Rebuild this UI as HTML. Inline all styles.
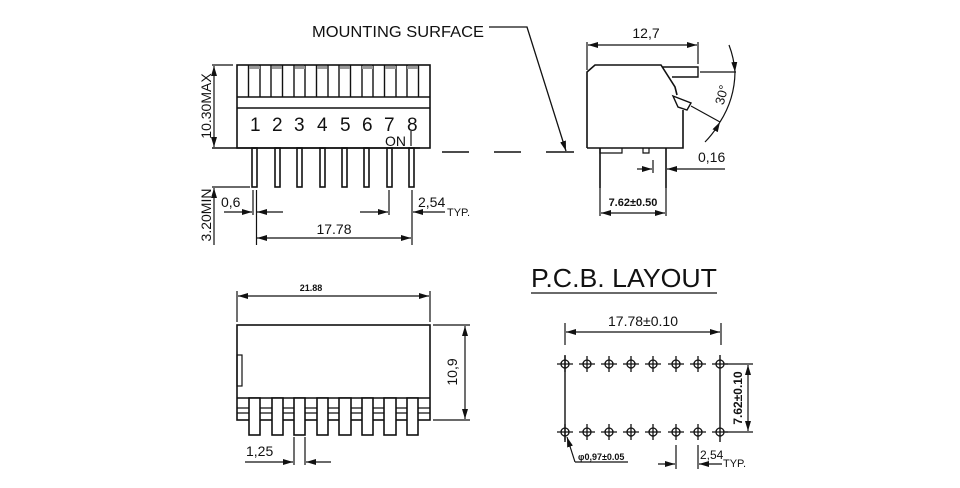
<!DOCTYPE html>
<html><head><meta charset="utf-8"><style>
html,body{margin:0;padding:0;background:#fff;}
svg{display:block;}
text{font-family:"Liberation Sans",sans-serif;fill:#111;}
</style></head><body>
<svg width="960" height="488" viewBox="0 0 960 488" xmlns="http://www.w3.org/2000/svg">
<defs>
<marker id="a" viewBox="0 0 10 6" refX="10" refY="3" markerWidth="10" markerHeight="6" markerUnits="userSpaceOnUse" orient="auto-start-reverse"><path d="M0,0L10,3L0,6z" fill="#111"/></marker>
</defs>
<g stroke="#111" stroke-width="1.6" fill="none">
<rect x="237" y="65" width="193" height="83"/>
<line x1="237" y1="97" x2="430" y2="97"/>
<line x1="237" y1="108" x2="430" y2="108"/>
<g stroke-width="1.4">
<path d="M248.5 65V97M260 65V97M271 65V97M282.5 65V97M294 65V97M305 65V97M316.5 65V97M328 65V97M339 65V97M350.5 65V97M362 65V97M373 65V97M384.5 65V97M396 65V97M407 65V97M418.5 65V97"/>
</g>
<g fill="#999" stroke="none">
<rect x="249" y="66" width="11" height="3"/><rect x="272" y="66" width="10" height="3"/><rect x="295" y="66" width="10" height="3"/><rect x="317" y="66" width="10" height="3"/><rect x="340" y="66" width="10" height="3"/><rect x="362" y="66" width="11" height="3"/><rect x="385" y="66" width="11" height="3"/><rect x="407" y="66" width="11" height="3"/>
</g>
<line x1="212" y1="148" x2="420" y2="148"/>
<line x1="411" y1="131" x2="411" y2="146" stroke-width="1.2"/>
<g>
<rect x="252" y="148" width="5" height="39"/><rect x="275" y="148" width="5" height="39"/><rect x="297" y="148" width="5" height="39"/><rect x="320" y="148" width="5" height="39"/><rect x="342" y="148" width="5" height="39"/><rect x="364" y="148" width="5" height="39"/><rect x="387" y="148" width="5" height="39"/><rect x="409" y="148" width="5" height="39"/>
</g>
<path d="M442 152H469M494 152H521M546 152H574"/>
<path d="M489 27H527L566 151" marker-end="url(#a)" stroke-width="1.3"/>
<line x1="212" y1="65" x2="233" y2="65" stroke-width="1.2"/>
<line x1="214" y1="66" x2="214" y2="147" marker-start="url(#a)" marker-end="url(#a)" stroke-width="1.2"/>
<line x1="212" y1="187" x2="250" y2="187" stroke-width="1.2"/>
<line x1="214" y1="245" x2="214" y2="188" marker-end="url(#a)" stroke-width="1.2"/>
<path d="M253 190V215M256.5 190V245M412 190V245M389 190V215" stroke-width="1.2"/>
<line x1="224" y1="212" x2="252" y2="212" marker-end="url(#a)" stroke-width="1.2"/>
<line x1="283" y1="212" x2="257" y2="212" marker-end="url(#a)" stroke-width="1.2"/>
<line x1="360" y1="212" x2="388" y2="212" marker-end="url(#a)" stroke-width="1.2"/>
<line x1="445" y1="212" x2="413" y2="212" marker-end="url(#a)" stroke-width="1.2"/>
<line x1="257" y1="238" x2="411" y2="238" marker-start="url(#a)" marker-end="url(#a)" stroke-width="1.2"/>

<path d="M587 148V72L595 65H661L675 87L677 95M683 110V148H587"/>
<path d="M662 67H698V77H672" stroke-width="1.4"/>
<path d="M673 96L691 103L687 110L678 107L673 96Z" stroke-width="1.4"/>
<path d="M600 148V188M666 148V188"/>
<path d="M600 148V153H622V148M643 148V153H649V148" stroke-width="1.2"/>
<path d="M587 42V70M698 42V64" stroke-width="1.2"/>
<line x1="588" y1="45" x2="697" y2="45" marker-start="url(#a)" marker-end="url(#a)" stroke-width="1.2"/>
<line x1="700" y1="72" x2="736" y2="72" stroke-width="1.2"/>
<line x1="691" y1="106" x2="720" y2="122" stroke-width="1.2"/>
<path d="M729 45A95 95 0 0 1 735 72" stroke-width="1.2" marker-end="url(#a)"/>
<path d="M735 72A95 95 0 0 1 720 122" stroke-width="1.2"/>
<path d="M705 142A95 95 0 0 0 720 122" stroke-width="1.2" marker-end="url(#a)"/>
<path d="M653 160V173" stroke-width="1.2"/>
<line x1="637" y1="169" x2="652" y2="169" marker-end="url(#a)" stroke-width="1.2"/>
<line x1="725" y1="169" x2="667" y2="169" marker-end="url(#a)" stroke-width="1.2"/>
<path d="M600 188V216M666 188V216" stroke-width="1.2"/>
<line x1="601" y1="213" x2="665" y2="213" marker-start="url(#a)" marker-end="url(#a)" stroke-width="1.2"/>

<rect x="237" y="325" width="193" height="95"/>
<line x1="237" y1="398" x2="430" y2="398"/>
<line x1="237" y1="408" x2="430" y2="408" stroke-width="1.2"/>
<line x1="237" y1="413" x2="430" y2="413" stroke-width="1.2"/>
<rect x="237" y="355" width="5" height="31" stroke-width="1.2"/>
<g fill="#fff">
<rect x="249" y="398" width="11" height="37"/><rect x="272" y="398" width="11" height="37"/><rect x="294" y="398" width="11" height="37"/><rect x="317" y="398" width="11" height="37"/><rect x="339" y="398" width="12" height="37"/><rect x="362" y="398" width="11" height="37"/><rect x="384" y="398" width="12" height="37"/><rect x="407" y="398" width="11" height="37"/>
</g>
<path d="M237 291V322M430 291V322" stroke-width="1.2"/>
<line x1="238" y1="296" x2="429" y2="296" marker-start="url(#a)" marker-end="url(#a)" stroke-width="1.2"/>
<path d="M433 325H470M433 420H470" stroke-width="1.2"/>
<line x1="465" y1="326" x2="465" y2="419" marker-start="url(#a)" marker-end="url(#a)" stroke-width="1.2"/>
<path d="M294 437V465M305 437V465" stroke-width="1.2"/>
<line x1="245" y1="462" x2="293" y2="462" marker-end="url(#a)" stroke-width="1.2"/>
<line x1="331" y1="462" x2="306" y2="462" marker-end="url(#a)" stroke-width="1.2"/>

<line x1="531" y1="293" x2="717" y2="293" stroke-width="1.3"/>
<path d="M565 323V345M721 323V345" stroke-width="1.2"/>
<line x1="566" y1="332" x2="720" y2="332" marker-start="url(#a)" marker-end="url(#a)" stroke-width="1.2"/>
<path d="M565 355V442M720 355V442" stroke-width="1.4"/>
<g stroke-width="1.3">
<path d="M557 364H573M565 356V372M579 364H595M587 356V372M601 364H617M609 356V372M623 364H639M631 356V372M645 364H661M653 356V372M668 364H684M676 356V372M690 364H706M698 356V372M712 364H728"/>
<path d="M557 432H573M565 424V440M579 432H595M587 424V440M601 432H617M609 424V440M623 432H639M631 424V440M645 432H661M653 424V440M668 432H684M676 424V440M690 432H706M698 424V440M712 432H728"/>
<circle cx="565" cy="364" r="4"/><circle cx="587" cy="364" r="4"/><circle cx="609" cy="364" r="4"/><circle cx="631" cy="364" r="4"/><circle cx="653" cy="364" r="4"/><circle cx="676" cy="364" r="4"/><circle cx="698" cy="364" r="4"/><circle cx="720" cy="364" r="4"/>
<circle cx="565" cy="432" r="4"/><circle cx="587" cy="432" r="4"/><circle cx="609" cy="432" r="4"/><circle cx="631" cy="432" r="4"/><circle cx="653" cy="432" r="4"/><circle cx="676" cy="432" r="4"/><circle cx="698" cy="432" r="4"/><circle cx="720" cy="432" r="4"/>
</g>
<path d="M725 364H753M725 432H753" stroke-width="1.2"/>
<line x1="748" y1="365" x2="748" y2="431" marker-start="url(#a)" marker-end="url(#a)" stroke-width="1.2"/>
<path d="M575 462L567 437" stroke-width="1.2" marker-end="url(#a)"/>
<line x1="575" y1="462" x2="628" y2="462" stroke-width="1.2"/>
<path d="M676 445V469M698 445V469" stroke-width="1.2"/>
<line x1="658" y1="464" x2="675" y2="464" marker-end="url(#a)" stroke-width="1.2"/>
<line x1="722" y1="464" x2="699" y2="464" marker-end="url(#a)" stroke-width="1.2"/>
</g>

<text x="312" y="37" font-size="16" textLength="172" lengthAdjust="spacingAndGlyphs">MOUNTING SURFACE</text>
<g font-size="19">
<text x="250" y="131">1</text><text x="272" y="131">2</text><text x="294" y="131">3</text><text x="317" y="131">4</text><text x="340" y="131">5</text><text x="362" y="131">6</text><text x="384" y="131">7</text><text x="407" y="131">8</text>
</g>
<text x="385" y="146" font-size="14">ON</text>
<text transform="translate(211,106) rotate(-90)" font-size="14" text-anchor="middle">10.30MAX</text>
<text transform="translate(211,215) rotate(-90)" font-size="14" text-anchor="middle">3.20MIN</text>
<text x="221" y="207" font-size="14">0,6</text>
<text x="418" y="207" font-size="14">2,54</text>
<text x="447" y="216" font-size="11">TYP.</text>
<text x="334" y="234" font-size="14" text-anchor="middle">17.78</text>
<text x="646" y="38" font-size="14" text-anchor="middle">12,7</text>
<text transform="translate(726,96) rotate(-75)" font-size="13" text-anchor="middle">30°</text>
<text x="698" y="162" font-size="14">0,16</text>
<text x="633" y="206" font-size="11" font-weight="bold" text-anchor="middle">7.62±0.50</text>
<text x="311" y="291" font-size="9" font-weight="bold" text-anchor="middle">21.88</text>
<text transform="translate(457,372) rotate(-90)" font-size="14" text-anchor="middle">10,9</text>
<text x="246" y="456" font-size="14">1,25</text>
<text x="531" y="287" font-size="26" textLength="186" lengthAdjust="spacingAndGlyphs">P.C.B.  LAYOUT</text>
<text x="643" y="326" font-size="14" text-anchor="middle">17.78±0.10</text>
<text transform="translate(742,398) rotate(-90)" font-size="12" font-weight="bold" text-anchor="middle">7.62±0.10</text>
<text x="578" y="460" font-size="9" font-weight="bold">φ0,97±0.05</text>
<text x="700" y="459" font-size="12">2,54</text>
<text x="723" y="467" font-size="11">TYP.</text>
</svg>
</body></html>
